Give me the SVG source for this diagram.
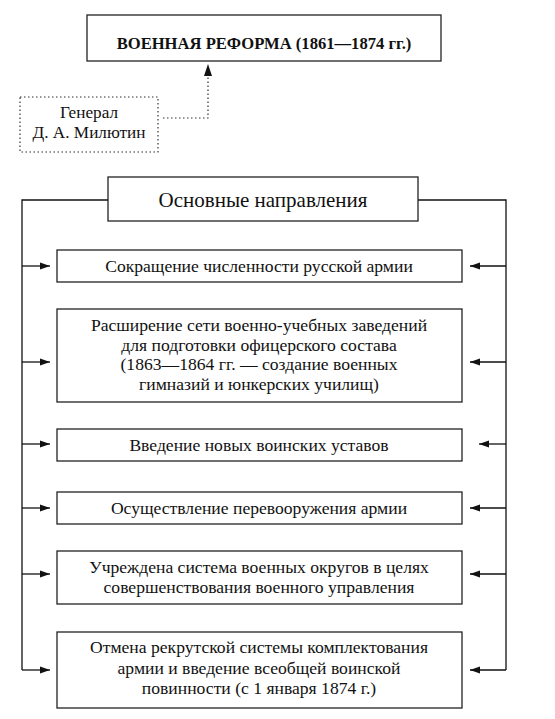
<svg xmlns="http://www.w3.org/2000/svg" width="555" height="719" viewBox="0 0 555 719">
<defs>
<style>
.box{fill:#fff;stroke:#222;stroke-width:1.3}
.dot{fill:none;stroke:#333;stroke-width:1.2;stroke-dasharray:1.5 2.5}
.ln{fill:none;stroke:#111;stroke-width:1.3}
.t{font-size:17.6px}
</style>
<marker id="ah" viewBox="0 0 10 10" refX="10" refY="5" markerWidth="10" markerHeight="10" markerUnits="userSpaceOnUse" orient="auto">
<path d="M0,1.5 L10,5 L0,8.5 Z" fill="#111"/>
</marker>
</defs>
<g id="connectors">
<path class="dot" d="M163,118 H208 V72"/>
<path d="M208,64 L204,76 L212,76 Z" fill="#111"/>
<path class="ln" d="M108,200 H22 V670"/>
<path class="ln" d="M418,200 H506 V670"/>
<path class="ln" d="M22,266 H50" marker-end="url(#ah)"/>
<path class="ln" d="M22,362 H50" marker-end="url(#ah)"/>
<path class="ln" d="M22,444 H50" marker-end="url(#ah)"/>
<path class="ln" d="M22,508 H50" marker-end="url(#ah)"/>
<path class="ln" d="M22,574 H50" marker-end="url(#ah)"/>
<path class="ln" d="M22,670 H50" marker-end="url(#ah)"/>
<path class="ln" d="M506,266 H470" marker-end="url(#ah)"/>
<path class="ln" d="M506,362 H470" marker-end="url(#ah)"/>
<path class="ln" d="M506,444 H479" marker-end="url(#ah)"/>
<path class="ln" d="M506,508 H470" marker-end="url(#ah)"/>
<path class="ln" d="M506,574 H470" marker-end="url(#ah)"/>
<path class="ln" d="M506,670 H470" marker-end="url(#ah)"/>
</g>
<g font-family="'Liberation Serif', 'Times New Roman', Tinos, 'DejaVu Serif', serif" fill="#111" text-anchor="middle">
<g id="title">
<rect class="box" x="87" y="15" width="354" height="46"/>
<text x="264" y="49" font-size="16.6" font-weight="bold">ВОЕННАЯ РЕФОРМА (1861—1874 гг.)</text>
</g>
<g id="milyutin">
<rect class="dot" x="20" y="97" width="138" height="55"/>
<text x="89" y="118" font-size="17.2">Генерал</text>
<text x="89" y="138" font-size="17.2">Д. А. Милютин</text>
</g>
<g id="main">
<rect class="box" x="108" y="177" width="310" height="44"/>
<text x="263" y="207" font-size="21">Основные направления</text>
</g>
<g id="n1">
<rect class="box" x="57" y="250" width="405" height="32"/>
<text class="t" x="259" y="272">Сокращение численности русской армии</text>
</g>
<g id="n2">
<rect class="box" x="57" y="309" width="405" height="93"/>
<text class="t" x="259" y="331">Расширение сети военно-учебных заведений</text>
<text class="t" x="259" y="351">для подготовки офицерского состава</text>
<text class="t" x="259" y="370">(1863—1864 гг. — создание военных</text>
<text class="t" x="259" y="390">гимназий и юнкерских училищ)</text>
</g>
<g id="n3">
<rect class="box" x="57" y="429" width="405" height="32"/>
<text class="t" x="259" y="451">Введение новых воинских уставов</text>
</g>
<g id="n4">
<rect class="box" x="57" y="492" width="405" height="32"/>
<text class="t" x="259" y="514">Осуществление перевооружения армии</text>
</g>
<g id="n5">
<rect class="box" x="57" y="551" width="405" height="53"/>
<text class="t" x="259" y="573">Учреждена система военных округов в целях</text>
<text class="t" x="259" y="593">совершенствования военного управления</text>
</g>
<g id="n6">
<rect class="box" x="57" y="632" width="405" height="76"/>
<text class="t" x="259" y="653">Отмена рекрутской системы комплектования</text>
<text class="t" x="259" y="674">армии и введение всеобщей воинской</text>
<text class="t" x="259" y="694">повинности (с 1 января 1874 г.)</text>
</g>
</g>
</svg>
